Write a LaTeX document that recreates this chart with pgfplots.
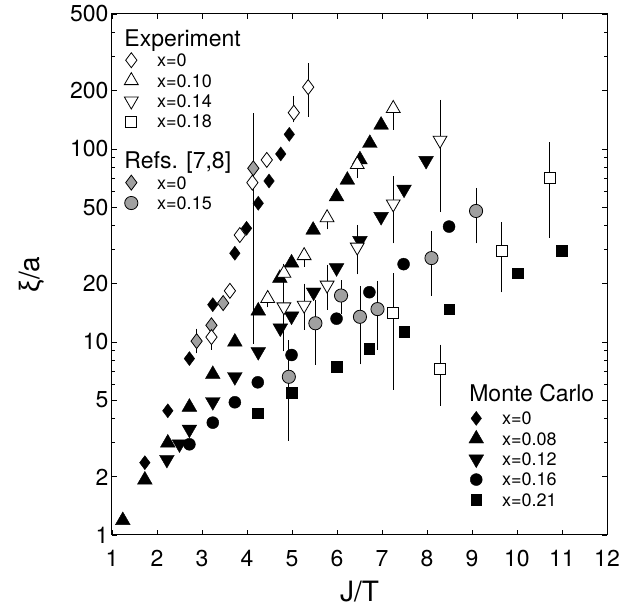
\documentclass[border=0pt]{standalone}
\usepackage{pgfplots}
\pgfplotsset{compat=1.18}
\usepackage{fontspec}
\setmainfont{TeX Gyre Heros}
\newfontfamily\greekfont{Liberation Sans}
\definecolor{refgray}{RGB}{160,160,160}

\pgfplotsset{
  leg/.style={legend cell align=left,
    legend style={draw=none, fill=none, inner sep=0pt, outer sep=0pt,
      row sep=0pt, column sep=19pt,
      nodes={inner sep=0pt, text height=16.6pt, text depth=3.8pt,
        font=\fontsize{18}{18}\selectfont}}},
  legend image code/.code={\draw[#1] plot coordinates {(0pt,0pt)};},
  ebar/.style={error bars/y dir=both, error bars/y explicit,
    error bars/error bar style={black, line width=0.8pt},
    error bars/error mark options={black, line width=0.8pt, mark size=1.6pt}},
  opendia/.style={only marks, mark=diamond*, mark size=7.5pt,
    mark options={fill=white, draw=black, line width=0.8pt}},
  openup/.style={only marks, mark=triangle*, mark size=8pt,
    mark options={fill=white, draw=black, line width=0.8pt}},
  opendown/.style={only marks, mark=triangle*, mark size=8pt,
    mark options={rotate=180, fill=white, draw=black, line width=0.8pt}},
  opensq/.style={only marks, mark=square*, mark size=5.5pt,
    mark options={fill=white, draw=black, line width=0.8pt}},
  graydia/.style={only marks, mark=diamond*, mark size=7.5pt,
    mark options={fill=refgray, draw=black, line width=0.8pt}},
  graycirc/.style={only marks, mark=*, mark size=6.6pt,
    mark options={fill=refgray, draw=black, line width=0.8pt}},
  mcdia/.style={only marks, mark=diamond*, mark size=7pt,
    mark options={fill=black, draw=black}},
  mcup/.style={only marks, mark=triangle*, mark size=8.5pt,
    mark options={fill=black, draw=black}},
  mcdown/.style={only marks, mark=triangle*, mark size=8.5pt,
    mark options={rotate=180, fill=black, draw=black}},
  mccirc/.style={only marks, mark=*, mark size=6pt,
    mark options={fill=black, draw=black}},
  mcsq/.style={only marks, mark=square*, mark size=5.3pt,
    mark options={fill=black, draw=black}},
}

\begin{document}
\begin{tikzpicture}
\begin{axis}[width=495pt, height=521pt, scale only axis,
    xmin=1, xmax=12, ymode=log, ymin=1, ymax=500,
    name=main,
    axis line style={line width=1pt},
    tick style={black, line width=0.8pt},
    tick align=inside,
    major tick length=5pt, minor tick length=3pt,
    xtick={1,2,...,12},
    ytick={1,2,5,10,20,50,100,200,500},
    yticklabels={1,2,5,10,20,50,100,200,500},
    minor ytick={3,4,6,7,8,9,30,40,60,70,80,90,300,400},
    /pgf/number format/assume math mode=true,
    ticklabel style={font=\fontsize{23}{23}\selectfont},
    xticklabel style={yshift=-12pt},
    xlabel={J/T},
    ylabel={{\greekfont ξ}/a},
    label style={font=\fontsize{28}{28}\selectfont, inner sep=0pt},
    xlabel style={at={(axis description cs:0.5,-0.108)}, anchor=center},
    ylabel style={at={(axis description cs:-0.162,0.5)}, anchor=center},
]
% Monte Carlo
\addplot[mcdia] coordinates {
  (1.73,2.37) (2.24,4.4) (2.72,8.2) (3.24,15.6) (3.73,28.8) (3.99,38.8)
  (4.25,52.3) (4.49,68.2) (4.75,94.2) (4.94,119)
};
\addplot[mcup] coordinates {
  (1.24,1.19) (1.73,1.93) (2.24,3.0) (2.72,4.6) (3.24,6.8) (3.73,10)
  (4.25,14.5) (4.73,21.4) (4.99,25.7) (5.47,38) (5.99,56.6) (6.23,69)
  (6.51,88) (6.73,107) (6.98,133)
};
\addplot[mcdown] coordinates {
  (2.22,2.46) (2.50,2.96) (2.72,3.53) (3.24,4.9) (3.73,6.6) (4.25,8.9)
  (4.74,11.8) (4.99,13.6) (5.48,18.1) (5.99,24.2) (6.51,33.5) (6.98,44.6)
  (7.49,61.8) (7.98,87)
};
\addplot[mccirc] coordinates {
  (2.72,2.95) (3.24,3.82) (3.73,4.87) (4.24,6.18) (4.99,8.56) (5.99,13.2)
  (6.72,18.1) (7.48,25.3) (8.49,39.6)
};
\addplot[mcsq] coordinates {
  (4.24,4.27) (4.99,5.46) (5.99,7.45) (6.72,9.25) (7.49,11.3) (8.49,14.8)
  (10.01,22.7) (10.99,29.7)
};
% Refs. [7,8]
\addplot[graydia, ebar] coordinates {
  (2.88,10.1) += (0,1.4) -= (0,1.2)
  (3.21,12.2) += (0,0) -= (0,0)
  (3.47,15.9) += (0,0) -= (0,0)
  (4.14,79.4) += (0,70.6) -= (0,69.4)
};
\addplot[graycirc, ebar] coordinates {
  (4.93,6.6) += (0,3.4) -= (0,3.47)
  (5.52,12.5) += (0,3.7) -= (0,4.74)
  (6.09,17.4) += (0,3.1) -= (0,3.2)
  (6.51,13.5) += (0,5.6) -= (0,5.7)
  (6.90,14.8) += (0,5.5) -= (0,5.53)
  (8.10,27.2) += (0,9.6) -= (0,9.5)
  (9.09,47.7) += (0,14) -= (0,14.7)
};
% Experiment
\addplot[opendia, ebar] coordinates {
  (3.21,10.6) += (0,0.9) -= (0,1.3)
  (3.62,18.4) += (0,0) -= (0,0)
  (3.84,35.8) += (0,0) -= (0,0)
  (4.12,66.9) += (0,0) -= (0,0)
  (4.44,87.7) += (0,0) -= (0,0)
  (5.04,154) += (0,31) -= (0,14)
  (5.36,209) += (0,63) -= (0,59)
};
\addplot[openup, ebar] coordinates {
  (4.46,16.8) += (0,0.7) -= (0,1.4)
  (4.82,22.7) += (0,2.3) -= (0,3.7)
  (5.27,28.0) += (0,1) -= (0,3)
  (5.78,44.0) += (0,1) -= (0,5)
  (6.45,83.0) += (0,2) -= (0,11)
  (7.25,162) += (0,3) -= (0,34)
};
\addplot[opendown, ebar] coordinates {
  (4.82,15.2) += (0,6.8) -= (0,6.1)
  (5.27,15.5) += (0,4.2) -= (0,3.7)
  (5.78,19.7) += (0,5.0) -= (0,4.7)
  (6.45,31.0) += (0,8.6) -= (0,8.2)
  (7.25,51.9) += (0,19.1) -= (0,18.9)
  (8.29,111) += (0,65) -= (0,63)
};
\addplot[opensq, ebar] coordinates {
  (7.25,14.1) += (0,8.1) -= (0,8.35)
  (8.29,7.22) += (0,2.28) -= (0,2.45)
  (9.66,29.7) += (0,11.1) -= (0,11.3)
  (10.73,70.5) += (0,35.5) -= (0,35.1)
};
\end{axis}

% legend: Experiment and Refs. [7,8]
\begin{axis}[width=495pt, height=521pt, scale only axis,
    xmin=1, xmax=12, ymin=0, ymax=1, hide axis, leg,
    legend style={at={(axis description cs:0.025,0.970)}, anchor=north west}]
\addlegendimage{empty legend}
\addlegendentry[font=\fontsize{23}{23}\selectfont]{\hspace*{-32.8pt}Experiment}
\addlegendimage{opendia}\addlegendentry{x=0}
\addlegendimage{openup}\addlegendentry{x=0.10}
\addlegendimage{opendown}\addlegendentry{x=0.14}
\addlegendimage{opensq}\addlegendentry{x=0.18}
\addlegendimage{empty legend}\addlegendentry{}
\addlegendimage{empty legend}
\addlegendentry[font=\fontsize{23}{23}\selectfont]{\hspace*{-32.8pt}Refs. [7,8]}
\addlegendimage{graydia}\addlegendentry{x=0}
\addlegendimage{graycirc}\addlegendentry{x=0.15}
\end{axis}

% legend: Monte Carlo
\begin{axis}[width=495pt, height=521pt, scale only axis,
    xmin=1, xmax=12, ymin=0, ymax=1, hide axis, leg,
    legend style={at={(axis description cs:0.721,0.2887)}, anchor=north west,
      column sep=18.5pt}]
\addlegendimage{empty legend}
\addlegendentry[font=\fontsize{23}{23}\selectfont, text depth=7pt]{\hspace*{-32.8pt}Monte Carlo}
\addlegendimage{mcdia}\addlegendentry{x=0}
\addlegendimage{mcup}\addlegendentry{x=0.08}
\addlegendimage{mcdown}\addlegendentry{x=0.12}
\addlegendimage{mccirc}\addlegendentry{x=0.16}
\addlegendimage{mcsq}\addlegendentry{x=0.21}
\end{axis}

\pgfresetboundingbox
\path[use as bounding box] ([shift={(-112pt,-72pt)}]main.south west)
  rectangle ([shift={(34pt,14pt)}]main.north east);
\end{tikzpicture}
\end{document}
